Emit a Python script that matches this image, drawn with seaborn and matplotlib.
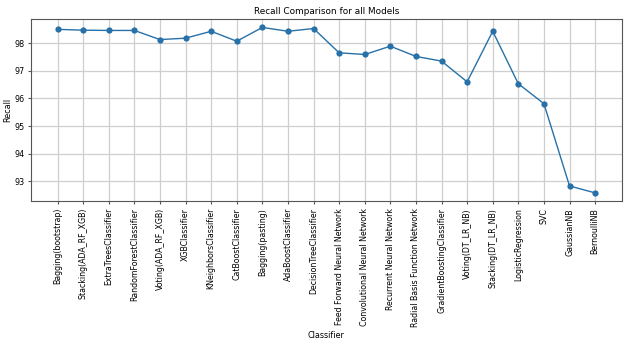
import matplotlib
matplotlib.use("Agg")
import matplotlib.pyplot as plt
import seaborn as sns
import pandas as pd

classifiers = [
    "Bagging(bootstrap)", "Stacking(ADA_RF_XGB)", "ExtraTreesClassifier",
    "RandomForestClassifier", "Voting(ADA_RF_XGB)", "XGBClassifier",
    "KNeighborsClassifier", "CatBoostClassifier", "Bagging(pasting)",
    "AdaBoostClassifier", "DecisionTreeClassifier", "Feed Forward Neural Network",
    "Convolutional Neural Network", "Recurrent Neural Network",
    "Radial Basis Function Network", "GradientBoostingClassifier",
    "Voting(DT_LR_NB)", "Stacking(DT_LR_NB)", "LogisticRegression", "SVC",
    "GaussianNB", "BernoulliNB",
]
recall = [
    98.50, 98.47, 98.46, 98.46, 98.13, 98.18, 98.43, 98.07, 98.57, 98.43, 98.53,
    97.65, 97.59, 97.89, 97.52, 97.35, 96.60, 98.43, 96.53, 95.81, 92.83, 92.58,
]

df = pd.DataFrame({"Classifier": classifiers, "Recall": recall})

fig, ax = plt.subplots(figsize=(6.27, 3.48), dpi=100)
sns.lineplot(data=df, x="Classifier", y="Recall", marker="o", color="#2771a8",
             linewidth=1.0, markersize=4.5, markeredgewidth=0, ax=ax, sort=False)
ax.grid(True, color="#cfcfcf", linewidth=0.9)
ax.set_axisbelow(True)
ax.set_title("Recall Comparison for all Models", fontsize=6.4, pad=3.5)
ax.set_xlabel("Classifier", fontsize=5.8, labelpad=3)
ax.set_ylabel("Recall", fontsize=5.8, labelpad=1.5)
ax.tick_params(axis="x", labelrotation=90, labelsize=5.7, length=2.5, pad=2.5,
               color="#555555")
ax.tick_params(axis="y", labelsize=5.8, length=2.5, pad=2.0, color="#555555")
for s in ax.spines.values():
    s.set_linewidth(0.8)
    s.set_color("#555555")
fig.subplots_adjust(left=0.049, right=0.992, top=0.945, bottom=0.422)
fig.savefig("out.png", dpi=100)
